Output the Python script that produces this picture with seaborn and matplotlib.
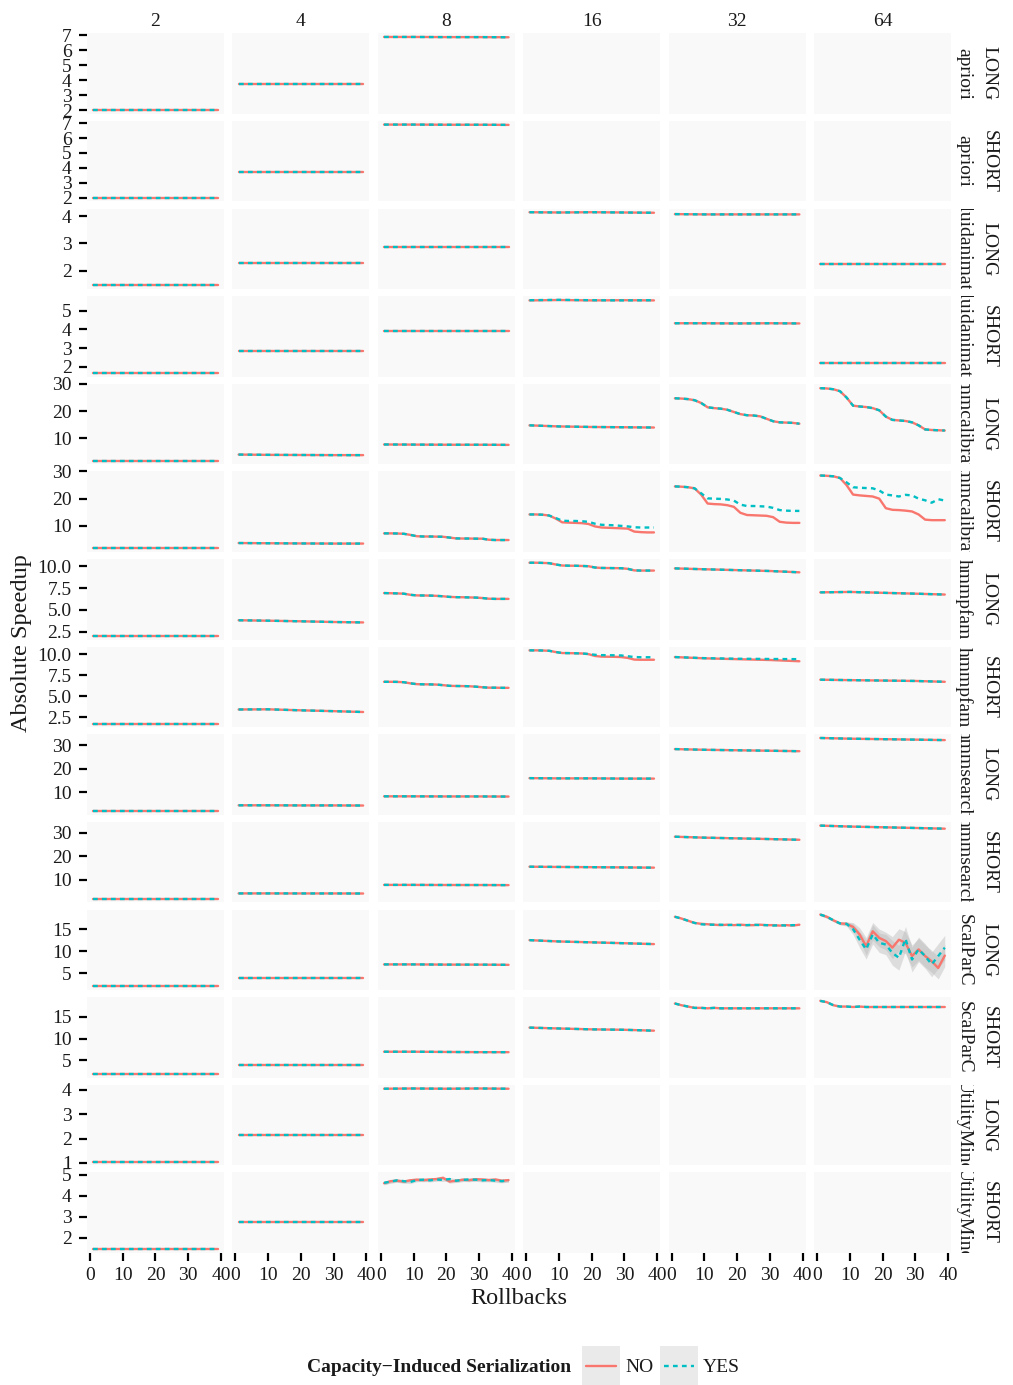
import matplotlib
matplotlib.use("Agg")
import matplotlib.pyplot as plt
from matplotlib.patches import Rectangle
import pandas as pd
import seaborn as sns

# ---------------------------------------------------------------- data
CORES = [2, 4, 8, 16, 32, 64]
BENCHMARKS = ["apriori", "fluidanimate", "hmmcalibrate", "hmmpfam",
              "hmmsearch", "ScalParC", "UtilityMine"]
TRANSACTIONS = ["LONG", "SHORT"]
SERIALIZATION = ["NO", "YES"]

# rollback counts: dense grid for curves with structure, sparse grid for near-flat ones
X_FINE = [1, 3, 5, 7, 9, 11, 13, 15, 17, 19, 21, 23, 25, 27, 29, 31, 33, 35, 37, 39]
X_COARSE = [1, 10, 20, 30, 39]

APRIORI_LONG_NO = {
    2: [2.00, 2.00, 2.00, 2.00, 2.00],
    4: [3.72, 3.72, 3.72, 3.72, 3.72],
    8: [6.87, 6.87, 6.86, 6.86, 6.85],
}
APRIORI_LONG_YES = dict(APRIORI_LONG_NO)
APRIORI_SHORT_NO = {
    2: [2.00, 2.00, 2.00, 2.00, 2.00],
    4: [3.72, 3.72, 3.72, 3.72, 3.72],
    8: [6.90, 6.90, 6.89, 6.89, 6.88],
}
APRIORI_SHORT_YES = dict(APRIORI_SHORT_NO)

FLUID_LONG_NO = {
    2: [1.45, 1.45, 1.45, 1.45, 1.45],
    4: [2.26, 2.26, 2.26, 2.26, 2.26],
    8: [2.87, 2.87, 2.87, 2.87, 2.87],
    16: [4.15, 4.14, 4.15, 4.14, 4.13],
    32: [4.08, 4.07, 4.07, 4.07, 4.07],
    64: [2.24, 2.24, 2.24, 2.24, 2.24],
}
FLUID_LONG_YES = dict(FLUID_LONG_NO)
FLUID_SHORT_NO = {
    2: [1.67, 1.67, 1.67, 1.67, 1.67],
    4: [2.83, 2.83, 2.83, 2.83, 2.83],
    8: [3.93, 3.93, 3.93, 3.93, 3.93],
    16: [5.55, 5.57, 5.55, 5.56, 5.55],
    32: [4.33, 4.33, 4.32, 4.33, 4.32],
    64: [2.22, 2.22, 2.22, 2.22, 2.22],
}
FLUID_SHORT_YES = {**FLUID_SHORT_NO, 16: [5.56, 5.58, 5.56, 5.55, 5.56]}

HMMCAL_LONG_NO = {
    2: [1.85, 1.85, 1.85, 1.85, 1.85],
    4: [4.10, 4.00, 3.95, 3.90, 3.90],
    8: [7.80, 7.75, 7.70, 7.70, 7.65],
    16: [14.8, 14.4, 14.2, 14.1, 14.0],
    32: [24.7, 24.6, 24.4, 24.0, 23.0, 21.4, 21.1, 20.9, 20.5, 19.7,
         18.9, 18.5, 18.4, 18.1, 17.2, 16.3, 15.9, 15.8, 15.7, 15.4],
    64: [28.4, 28.3, 28.0, 27.3, 25.0, 22.0, 21.7, 21.5, 21.1, 20.3,
         18.0, 16.8, 16.6, 16.4, 15.9, 14.8, 13.3, 13.1, 13.0, 12.9],
}
HMMCAL_LONG_YES = dict(HMMCAL_LONG_NO)
HMMCAL_SHORT_NO = {
    2: [1.75, 1.75, 1.75, 1.75, 1.75],
    4: [3.70, 3.62, 3.55, 3.50, 3.50],
    8: [7.25, 7.25, 7.20, 7.10, 6.70, 6.20, 6.10, 6.10, 6.05, 6.00,
        5.70, 5.40, 5.35, 5.35, 5.30, 5.30, 4.90, 4.80, 4.80, 4.80],
    16: [14.2, 14.2, 14.1, 13.8, 12.7, 11.3, 11.2, 11.1, 11.0, 10.7,
         9.8, 9.4, 9.3, 9.2, 9.1, 9.0, 7.9, 7.7, 7.6, 7.6],
    32: [24.5, 24.4, 24.2, 23.8, 21.5, 18.2, 18.0, 17.9, 17.6, 17.0,
         14.8, 14.0, 13.9, 13.8, 13.7, 13.2, 11.5, 11.2, 11.1, 11.1],
    64: [28.5, 28.4, 28.2, 27.6, 25.0, 21.5, 21.2, 21.0, 20.8, 20.0,
         16.5, 15.9, 15.8, 15.6, 15.3, 14.2, 12.3, 12.1, 12.1, 12.1],
}
HMMCAL_SHORT_YES = {
    **HMMCAL_SHORT_NO,
    16: [14.2, 14.2, 14.1, 13.8, 12.9, 11.9, 11.8, 11.8, 11.7, 11.5,
         10.8, 10.4, 10.3, 10.2, 10.0, 9.8, 9.5, 9.4, 9.4, 9.4],
    32: [24.5, 24.4, 24.2, 23.8, 22.0, 20.1, 20.0, 19.9, 19.7, 19.3,
         17.8, 17.3, 17.3, 17.2, 17.1, 16.6, 15.8, 15.6, 15.5, 15.5],
    64: [28.5, 28.4, 28.2, 27.6, 26.0, 24.2, 24.0, 23.9, 23.8, 23.0,
         21.5, 21.2, 20.8, 21.4, 21.2, 20.0, 19.4, 18.5, 19.8, 19.3],
}

HMMPFAM_LONG_NO = {
    2: [2.00, 2.00, 2.00, 2.00, 2.00],
    4: [3.80, 3.75, 3.68, 3.60, 3.55],
    8: [6.92, 6.90, 6.88, 6.85, 6.72, 6.65, 6.64, 6.63, 6.60, 6.55,
        6.48, 6.45, 6.44, 6.42, 6.40, 6.35, 6.27, 6.25, 6.25, 6.25],
    16: [10.40, 10.40, 10.38, 10.35, 10.20, 10.08, 10.06, 10.05, 10.03, 10.00,
         9.85, 9.80, 9.79, 9.78, 9.77, 9.70, 9.52, 9.50, 9.50, 9.50],
    32: [9.75, 9.65, 9.55, 9.45, 9.30],
    64: [7.00, 7.05, 6.95, 6.85, 6.75],
}
HMMPFAM_LONG_YES = dict(HMMPFAM_LONG_NO)
HMMPFAM_SHORT_NO = {
    2: [1.72, 1.72, 1.72, 1.72, 1.72],
    4: [3.40, 3.42, 3.30, 3.20, 3.10],
    8: [6.70, 6.70, 6.69, 6.65, 6.52, 6.42, 6.40, 6.39, 6.37, 6.30,
        6.22, 6.20, 6.19, 6.17, 6.12, 6.05, 6.00, 6.00, 5.98, 5.98],
    16: [10.45, 10.45, 10.43, 10.40, 10.25, 10.13, 10.12, 10.10, 10.08, 10.00,
         9.78, 9.70, 9.69, 9.68, 9.65, 9.55, 9.35, 9.33, 9.33, 9.33],
    32: [9.65, 9.50, 9.40, 9.30, 9.15],
    64: [6.95, 6.90, 6.85, 6.80, 6.70],
}
HMMPFAM_SHORT_YES = {
    **HMMPFAM_SHORT_NO,
    16: [10.45, 10.45, 10.43, 10.40, 10.25, 10.13, 10.12, 10.10, 10.08, 10.02,
         9.92, 9.88, 9.87, 9.86, 9.84, 9.75, 9.65, 9.63, 9.63, 9.63],
    32: [9.65, 9.52, 9.45, 9.42, 9.40],
}

HMMSEARCH_LONG_NO = {
    2: [2.00, 2.00, 2.00, 2.00, 2.00],
    4: [4.50, 4.50, 4.45, 4.45, 4.40],
    8: [8.30, 8.30, 8.25, 8.25, 8.20],
    16: [16.0, 15.9, 15.9, 15.8, 15.8],
    32: [28.3, 28.0, 27.8, 27.6, 27.4],
    64: [33.0, 32.7, 32.5, 32.3, 32.1],
}
HMMSEARCH_LONG_YES = dict(HMMSEARCH_LONG_NO)
HMMSEARCH_SHORT_NO = {
    2: [2.00, 2.00, 2.00, 2.00, 2.00],
    4: [4.30, 4.30, 4.28, 4.28, 4.25],
    8: [7.90, 7.90, 7.85, 7.85, 7.80],
    16: [15.6, 15.5, 15.4, 15.3, 15.2],
    32: [28.3, 27.9, 27.6, 27.3, 27.0],
    64: [33.0, 32.6, 32.3, 32.0, 31.7],
}
HMMSEARCH_SHORT_YES = dict(HMMSEARCH_SHORT_NO)

SCALPARC_LONG_NO = {
    2: [2.00, 2.00, 2.00, 2.00, 2.00],
    4: [3.90, 3.90, 3.90, 3.90, 3.90],
    8: [7.00, 7.00, 6.95, 6.95, 6.90],
    16: [12.5, 12.2, 12.0, 11.8, 11.6],
    32: [17.8, 17.4, 16.9, 16.4, 16.2, 16.1, 16.0, 15.9, 16.0, 15.9,
         16.0, 15.9, 15.9, 16.0, 15.9, 15.9, 15.8, 15.9, 15.8, 16.0],
    64: [18.3, 17.8, 17.0, 16.3, 16.2, 15.5, 13.8, 11.1, 14.5, 13.0,
         12.3, 10.8, 12.6, 11.9, 8.9, 10.4, 8.9, 7.7, 6.2, 9.0],
}
SCALPARC_LONG_YES = {
    **SCALPARC_LONG_NO,
    32: [17.8, 17.4, 16.9, 16.4, 16.1, 16.0, 16.0, 16.0, 15.9, 16.0,
         15.9, 15.9, 16.0, 15.9, 15.9, 15.8, 15.9, 15.8, 15.9, 15.9],
    64: [18.3, 17.8, 17.0, 16.3, 16.2, 15.0, 12.6, 10.4, 13.8, 11.9,
         11.5, 9.6, 8.5, 12.8, 8.1, 10.4, 8.9, 7.0, 8.9, 10.8],
}
SCALPARC_SHORT_NO = {
    2: [1.90, 1.90, 1.90, 1.90, 1.90],
    4: [3.90, 3.90, 3.90, 3.90, 3.90],
    8: [7.00, 7.00, 6.95, 6.90, 6.90],
    16: [12.5, 12.3, 12.1, 12.0, 11.8],
    32: [18.0, 17.6, 17.3, 17.0, 17.0, 16.9, 17.0, 16.9, 16.9, 16.9,
         16.9, 16.9, 16.9, 16.9, 16.9, 16.9, 16.9, 16.9, 16.9, 16.9],
    64: [18.6, 18.3, 17.6, 17.3, 17.3, 17.2, 17.3, 17.2, 17.2, 17.2,
         17.2, 17.2, 17.2, 17.2, 17.2, 17.2, 17.2, 17.2, 17.2, 17.2],
}
SCALPARC_SHORT_YES = dict(SCALPARC_SHORT_NO)

UTILITY_LONG_NO = {
    2: [1.05, 1.05, 1.05, 1.05, 1.05],
    4: [2.15, 2.15, 2.15, 2.15, 2.15],
    8: [4.05, 4.06, 4.05, 4.06, 4.05],
}
UTILITY_LONG_YES = dict(UTILITY_LONG_NO)
UTILITY_SHORT_NO = {
    2: [1.45, 1.45, 1.45, 1.45, 1.45],
    4: [2.75, 2.75, 2.75, 2.75, 2.75],
    8: [4.60, 4.70, 4.72, 4.68, 4.74, 4.77, 4.75, 4.78, 4.80, 4.86,
        4.68, 4.72, 4.77, 4.75, 4.79, 4.78, 4.75, 4.78, 4.72, 4.75],
}
UTILITY_SHORT_YES = {
    **UTILITY_SHORT_NO,
    8: [4.62, 4.68, 4.74, 4.70, 4.66, 4.75, 4.77, 4.74, 4.78, 4.76,
        4.80, 4.72, 4.76, 4.78, 4.77, 4.74, 4.76, 4.72, 4.70, 4.74],
}

# half-width of the confidence band where the runs disagree noticeably
SCALPARC_LONG_64_SPREAD_NO = [0.3, 0.3, 0.3, 0.3, 0.4, 1.0, 1.5, 2.0, 2.0, 2.0,
                              2.0, 2.5, 2.5, 2.5, 2.5, 2.5, 2.5, 2.5, 2.5, 2.5]
SCALPARC_LONG_64_SPREAD_YES = [0.3, 0.3, 0.3, 0.3, 0.5, 1.2, 1.8, 2.2, 2.2, 2.2,
                               2.3, 2.8, 2.8, 2.8, 2.8, 2.8, 2.8, 2.8, 2.8, 2.8]
UTILITY_SHORT_8_SPREAD = [0.08, 0.08, 0.08, 0.08, 0.08, 0.08, 0.08, 0.08, 0.08, 0.08,
                          0.08, 0.08, 0.08, 0.08, 0.08, 0.08, 0.08, 0.08, 0.08, 0.08]

SERIES = {
    ("apriori", "LONG"): (APRIORI_LONG_NO, APRIORI_LONG_YES),
    ("apriori", "SHORT"): (APRIORI_SHORT_NO, APRIORI_SHORT_YES),
    ("fluidanimate", "LONG"): (FLUID_LONG_NO, FLUID_LONG_YES),
    ("fluidanimate", "SHORT"): (FLUID_SHORT_NO, FLUID_SHORT_YES),
    ("hmmcalibrate", "LONG"): (HMMCAL_LONG_NO, HMMCAL_LONG_YES),
    ("hmmcalibrate", "SHORT"): (HMMCAL_SHORT_NO, HMMCAL_SHORT_YES),
    ("hmmpfam", "LONG"): (HMMPFAM_LONG_NO, HMMPFAM_LONG_YES),
    ("hmmpfam", "SHORT"): (HMMPFAM_SHORT_NO, HMMPFAM_SHORT_YES),
    ("hmmsearch", "LONG"): (HMMSEARCH_LONG_NO, HMMSEARCH_LONG_YES),
    ("hmmsearch", "SHORT"): (HMMSEARCH_SHORT_NO, HMMSEARCH_SHORT_YES),
    ("ScalParC", "LONG"): (SCALPARC_LONG_NO, SCALPARC_LONG_YES),
    ("ScalParC", "SHORT"): (SCALPARC_SHORT_NO, SCALPARC_SHORT_YES),
    ("UtilityMine", "LONG"): (UTILITY_LONG_NO, UTILITY_LONG_YES),
    ("UtilityMine", "SHORT"): (UTILITY_SHORT_NO, UTILITY_SHORT_YES),
}
BANDS = {
    ("ScalParC", "LONG", 64, "NO"): SCALPARC_LONG_64_SPREAD_NO,
    ("ScalParC", "LONG", 64, "YES"): SCALPARC_LONG_64_SPREAD_YES,
    ("UtilityMine", "SHORT", 8, "NO"): UTILITY_SHORT_8_SPREAD,
    ("UtilityMine", "SHORT", 8, "YES"): UTILITY_SHORT_8_SPREAD,
}
Y_TICKS = {
    ("apriori", "LONG"): [2, 3, 4, 5, 6, 7],
    ("apriori", "SHORT"): [2, 3, 4, 5, 6, 7],
    ("fluidanimate", "LONG"): [2, 3, 4],
    ("fluidanimate", "SHORT"): [2, 3, 4, 5],
    ("hmmcalibrate", "LONG"): [10, 20, 30],
    ("hmmcalibrate", "SHORT"): [10, 20, 30],
    ("hmmpfam", "LONG"): [2.5, 5.0, 7.5, 10.0],
    ("hmmpfam", "SHORT"): [2.5, 5.0, 7.5, 10.0],
    ("hmmsearch", "LONG"): [10, 20, 30],
    ("hmmsearch", "SHORT"): [10, 20, 30],
    ("ScalParC", "LONG"): [5, 10, 15],
    ("ScalParC", "SHORT"): [5, 10, 15],
    ("UtilityMine", "LONG"): [1, 2, 3, 4],
    ("UtilityMine", "SHORT"): [2, 3, 4, 5],
}

# ---------------------------------------------------------------- long table
records = []
for (bench, trans), (no_d, yes_d) in SERIES.items():
    for flag, d in zip(SERIALIZATION, (no_d, yes_d)):
        for cores, vals in d.items():
            xs = X_FINE if len(vals) == len(X_FINE) else X_COARSE
            for x, v in zip(xs, vals):
                records.append(dict(Benchmark=bench, Transaction=trans, Cores=cores,
                                    Rollbacks=x, Speedup=v, CIS=flag))
df = pd.DataFrame(records)

# ---------------------------------------------------------------- styling
sns.set_theme(style="white")
plt.rcParams["font.family"] = ["Liberation Serif", "DejaVu Serif"]
plt.rcParams["axes.unicode_minus"] = True

COL_NO = "#F8766D"
COL_YES = "#00BFC4"
PANEL_BG = "#F9F9F9"
INK = "#1A1A1A"
FS = 14
FS_TITLE = 17.5

W, H = 1013, 1385
fig, axes = plt.subplots(14, 6, figsize=(W / 100, H / 100), dpi=100)
fig.subplots_adjust(left=87 / W, right=951 / W, top=1 - 33.3 / H,
                    bottom=1 - 1253 / H, wspace=0.062, hspace=0.088)

rows = [(b, t) for b in BENCHMARKS for t in TRANSACTIONS]
for r, (bench, trans) in enumerate(rows):
    row_df = df[(df.Benchmark == bench) & (df.Transaction == trans)]
    lo_all, hi_all = row_df.Speedup.min(), row_df.Speedup.max()
    for (b, t, c, flag), spread in BANDS.items():
        if (b, t) == (bench, trans):
            vals = SERIES[(b, t)][SERIALIZATION.index(flag)][c]
            lo_all = min(lo_all, min(v - s for v, s in zip(vals, spread)))
            hi_all = max(hi_all, max(v + s for v, s in zip(vals, spread)))
    pad = 0.05 * (hi_all - lo_all)

    for c_i, cores in enumerate(CORES):
        ax = axes[r, c_i]
        ax.set_facecolor(PANEL_BG)
        for sp in ax.spines.values():
            sp.set_visible(False)

        for flag in SERIALIZATION:
            spread = BANDS.get((bench, trans, cores, flag))
            if spread is not None:
                vals = SERIES[(bench, trans)][SERIALIZATION.index(flag)][cores]
                ax.fill_between(X_FINE, [v - s for v, s in zip(vals, spread)],
                                [v + s for v, s in zip(vals, spread)],
                                color="#B5B5B5", alpha=0.4, lw=0, zorder=1)

        sub = row_df[row_df.Cores == cores]
        if len(sub):
            sns.lineplot(data=sub, x="Rollbacks", y="Speedup", hue="CIS",
                         style="CIS", hue_order=SERIALIZATION, style_order=SERIALIZATION,
                         palette={"NO": COL_NO, "YES": COL_YES},
                         dashes={"NO": "", "YES": (2.0, 1.8)},
                         errorbar=None, estimator=None, sort=True,
                         linewidth=1.7, legend=False, ax=ax, zorder=3)

        ax.set_xlim(-0.9, 40.9)
        ax.set_ylim(lo_all - pad, hi_all + pad)
        ax.set_xticks([0, 10, 20, 30, 40])
        ax.set_yticks(Y_TICKS[(bench, trans)])
        if Y_TICKS[(bench, trans)][0] == 2.5:
            ax.set_yticklabels([f"{v:.1f}" for v in Y_TICKS[(bench, trans)]])
        ax.set_xlabel("")
        ax.set_ylabel("")
        ax.tick_params(axis="x", bottom=(r == len(rows) - 1),
                       labelbottom=(r == len(rows) - 1),
                       length=6, width=1.6, pad=4, labelsize=FS,
                       color="black", labelcolor=INK, direction="out")
        ax.tick_params(axis="y", left=(c_i == 0), labelleft=(c_i == 0),
                       length=6, width=1.6, pad=5, labelsize=FS,
                       color="black", labelcolor=INK, direction="out")

    # right-hand strip with benchmark name and transaction length
    pos = axes[r, -1].get_position()
    strip = fig.add_axes([pos.x1, pos.y0, 1 - pos.x1, pos.height])
    strip.set_xlim(951, W)
    strip.set_ylim(0, 1)
    strip.axis("off")
    strip.text(964, 0.5, bench, rotation=-90, ha="center", va="center",
               fontsize=FS, color=INK, clip_on=True)
    strip.text(989, 0.5, trans, rotation=-90, ha="center", va="center",
               fontsize=FS, color=INK, clip_on=True)

# ---------------------------------------------------------------- annotations
over = fig.add_axes([0, 0, 1, 1])
over.set_xlim(0, W)
over.set_ylim(H, 0)
over.axis("off")

for c_i, cores in enumerate(CORES):
    pos = axes[0, c_i].get_position()
    cx = (pos.x0 + pos.x1) / 2 * W
    over.text(cx, 21, str(cores), ha="center", va="center", fontsize=FS, color=INK)

over.text(22, 643, "Absolute Speedup", rotation=90, ha="center", va="center",
          fontsize=FS_TITLE, color=INK)
over.text(519, 1299, "Rollbacks", ha="center", va="center",
          fontsize=FS_TITLE, color=INK)

# legend
over.text(571, 1367, "Capacity\u2212Induced Serialization", ha="right", va="center",
          fontsize=FS, fontweight="bold", color=INK)
for x0, flag, col, dash in [(582, "NO", COL_NO, None), (660, "YES", COL_YES, (2.0, 1.8))]:
    over.add_patch(Rectangle((x0, 1346), 38, 39, facecolor="#EAEAEA", edgecolor="none"))
    ln, = over.plot([x0 + 4, x0 + 34], [1366, 1366], color=col, lw=1.7)
    if dash:
        ln.set_dashes(dash)
    over.text(x0 + 43, 1367, flag, ha="left", va="center", fontsize=FS, color=INK)

fig.savefig("out.png", dpi=100)
